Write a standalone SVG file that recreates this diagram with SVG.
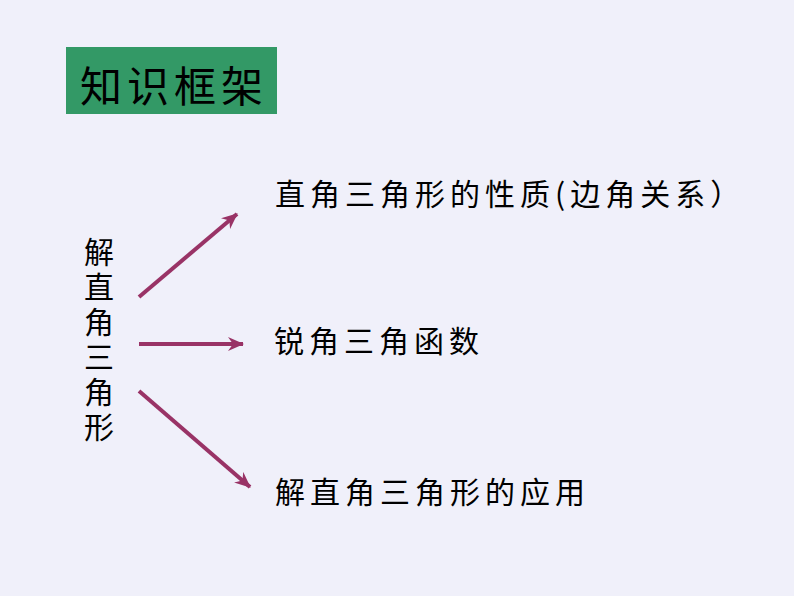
<svg xmlns="http://www.w3.org/2000/svg" width="794" height="596" viewBox="0 0 794 596">
<style>
.t{font-family:"Noto Sans CJK SC","Noto Sans",sans-serif;fill:#000;font-size:30px;letter-spacing:5px}
.c{stroke:#993366;stroke-width:4;fill:none}
</style>
<defs>
<marker id="ah" markerUnits="userSpaceOnUse" markerWidth="18" markerHeight="14" refX="15" refY="7" orient="auto">
<path d="M0,0 L16,7 L0,14 L5,7 Z" fill="#993366"/>
</marker>
</defs>
<rect width="794" height="596" fill="#F0F0FA"/>
<g id="title">
<rect x="66" y="47" width="211" height="67" fill="#339966"/>
<text class="t" x="80" y="102" style="font-size:42px">知识框架</text>
</g>
<g id="root">
<text class="t" x="99" y="237" writing-mode="vertical-rl" style="writing-mode:vertical-rl;letter-spacing:5px">解直角三角形</text>
</g>
<g id="n1"><text class="t" x="275" y="205">直角三角形的性质(边角关系）</text></g>
<g id="n2"><text class="t" x="274" y="352">锐角三角函数</text></g>
<g id="n3"><text class="t" x="275" y="503">解直角三角形的应用</text></g>
<g id="connectors">
<line class="c" x1="139" y1="297" x2="237" y2="214" marker-end="url(#ah)"/>
<line class="c" x1="139" y1="344" x2="243" y2="344" marker-end="url(#ah)"/>
<line class="c" x1="139" y1="391" x2="250" y2="487" marker-end="url(#ah)"/>
</g>
</svg>
